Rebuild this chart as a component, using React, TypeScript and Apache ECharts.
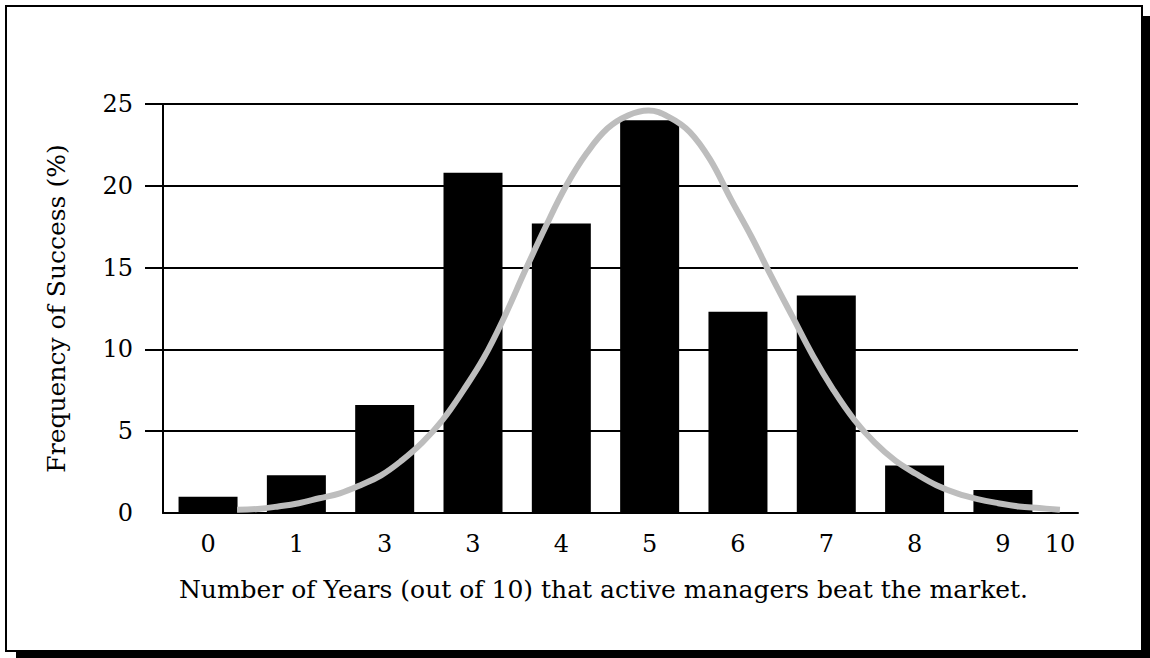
import React, { useEffect, useRef } from "react";
import * as echarts from "echarts";

const categories = ["0", "1", "3", "3", "4", "5", "6", "7", "8", "9"];
const barValues = [1.0, 2.3, 6.6, 20.8, 17.7, 24.0, 12.3, 13.3, 2.9, 1.4];
const curveX = [
  0, 0.25, 0.5, 0.75, 1, 1.25, 1.5, 1.75, 2, 2.25, 2.5, 2.75, 3, 3.25, 3.5, 3.75, 4, 4.25, 4.5, 4.75, 5,
  5.25, 5.5, 5.75, 6, 6.25, 6.5, 6.75, 7, 7.25, 7.5, 7.75, 8, 8.25, 8.5, 8.75, 9, 9.25, 9.5, 9.75, 10,
];
const curveY = [
  0.2, 0.25, 0.4, 0.6, 0.9, 1.2, 1.7, 2.3, 3.2, 4.3, 5.7, 7.5, 9.5, 12.0, 14.8, 17.5, 20.0, 22.0, 23.5, 24.3, 24.6,
  24.2, 23.3, 21.6, 19.2, 16.9, 14.4, 12.0, 9.6, 7.5, 5.7, 4.3, 3.2, 2.4, 1.7, 1.2, 0.85, 0.6, 0.4, 0.3, 0.2,
];
const yTicks = [5, 10, 15, 20, 25];
const endLabel = "10";
const xTitle = "Number of Years (out of 10) that active managers beat the market.";
const yTitle = "Frequency of Success (%)";

const FONT = "DejaVu Serif";

export default function App() {
  const ref = useRef<HTMLDivElement>(null);
  useEffect(() => {
    if (!ref.current) return;
    const chart = echarts.init(ref.current, null, { renderer: "svg" });
    const barIdx = categories.map((_, i) => i);
    chart.setOption({
      animation: false,
      backgroundColor: "#ffffff",
      graphic: [
        { type: "rect", shape: { x: 1142, y: 16, width: 8, height: 642 }, style: { fill: "#000" }, silent: true },
        { type: "rect", shape: { x: 16, y: 651, width: 1134, height: 7 }, style: { fill: "#000" }, silent: true },
        { type: "rect", shape: { x: 6, y: 6, width: 1136, height: 645 }, style: { fill: "none", stroke: "#000", lineWidth: 2 }, silent: true },
      ],
      grid: { left: 163, right: 72, top: 104, bottom: 145, containLabel: false },
      xAxis: [
        {
          type: "value",
          min: -0.51,
          max: 9.85,
          position: "bottom",
          axisLine: { show: true, onZero: false, lineStyle: { color: "#000", width: 2 } },
          axisTick: { show: false },
          splitLine: { show: false },
          axisLabel: {
            customValues: barIdx,
            formatter: (v: number) => categories[Math.round(v)] ?? "",
            color: "#000",
            fontFamily: FONT,
            fontSize: 24,
            margin: 19,
          },
          name: xTitle,
          nameLocation: "middle",
          nameGap: 64,
          nameTextStyle: { color: "#000", fontFamily: FONT, fontSize: 25, padding: [0, 34, 0, 0] },
        },
        {
          type: "value",
          min: -0.9,
          max: 10.22,
          position: "bottom",
          axisLine: { show: false, onZero: false },
          axisTick: { show: false },
          splitLine: { show: false },
          axisLabel: {
            customValues: [10],
            formatter: () => endLabel,
            color: "#000",
            fontFamily: FONT,
            fontSize: 24,
            margin: 19,
          },
        },
      ],
      yAxis: {
        type: "value",
        min: 0,
        max: 25,
        interval: 5,
        axisLine: { show: true, onZero: false, lineStyle: { color: "#000", width: 2 } },
        axisTick: { show: true, customValues: yTicks, length: 18, lineStyle: { color: "#000", width: 2 } },
        splitLine: { show: true, lineStyle: { color: "#000", width: 2 } },
        axisLabel: { color: "#000", fontFamily: FONT, fontSize: 24, margin: 30 },
        name: yTitle,
        nameLocation: "middle",
        nameGap: 94,
        nameTextStyle: { color: "#000", fontFamily: FONT, fontSize: 25 },
      },
      series: [
        {
          type: "bar",
          xAxisIndex: 0,
          data: barValues.map((v, i) => [i, v]),
          barWidth: 59,
          itemStyle: { color: "#000" },
          z: 2,
        },
        {
          type: "line",
          xAxisIndex: 1,
          data: curveX.map((x, i) => [x, curveY[i]]),
          smooth: 0.4,
          showSymbol: false,
          symbol: "none",
          clip: false,
          lineStyle: { color: "#bdbdbd", width: 6 },
          z: 3,
        },
      ],
    });
    return () => chart.dispose();
  }, []);
  return <div ref={ref} style={{ position: "fixed", left: 0, top: 0, width: 1150, height: 658 }} />;
}
